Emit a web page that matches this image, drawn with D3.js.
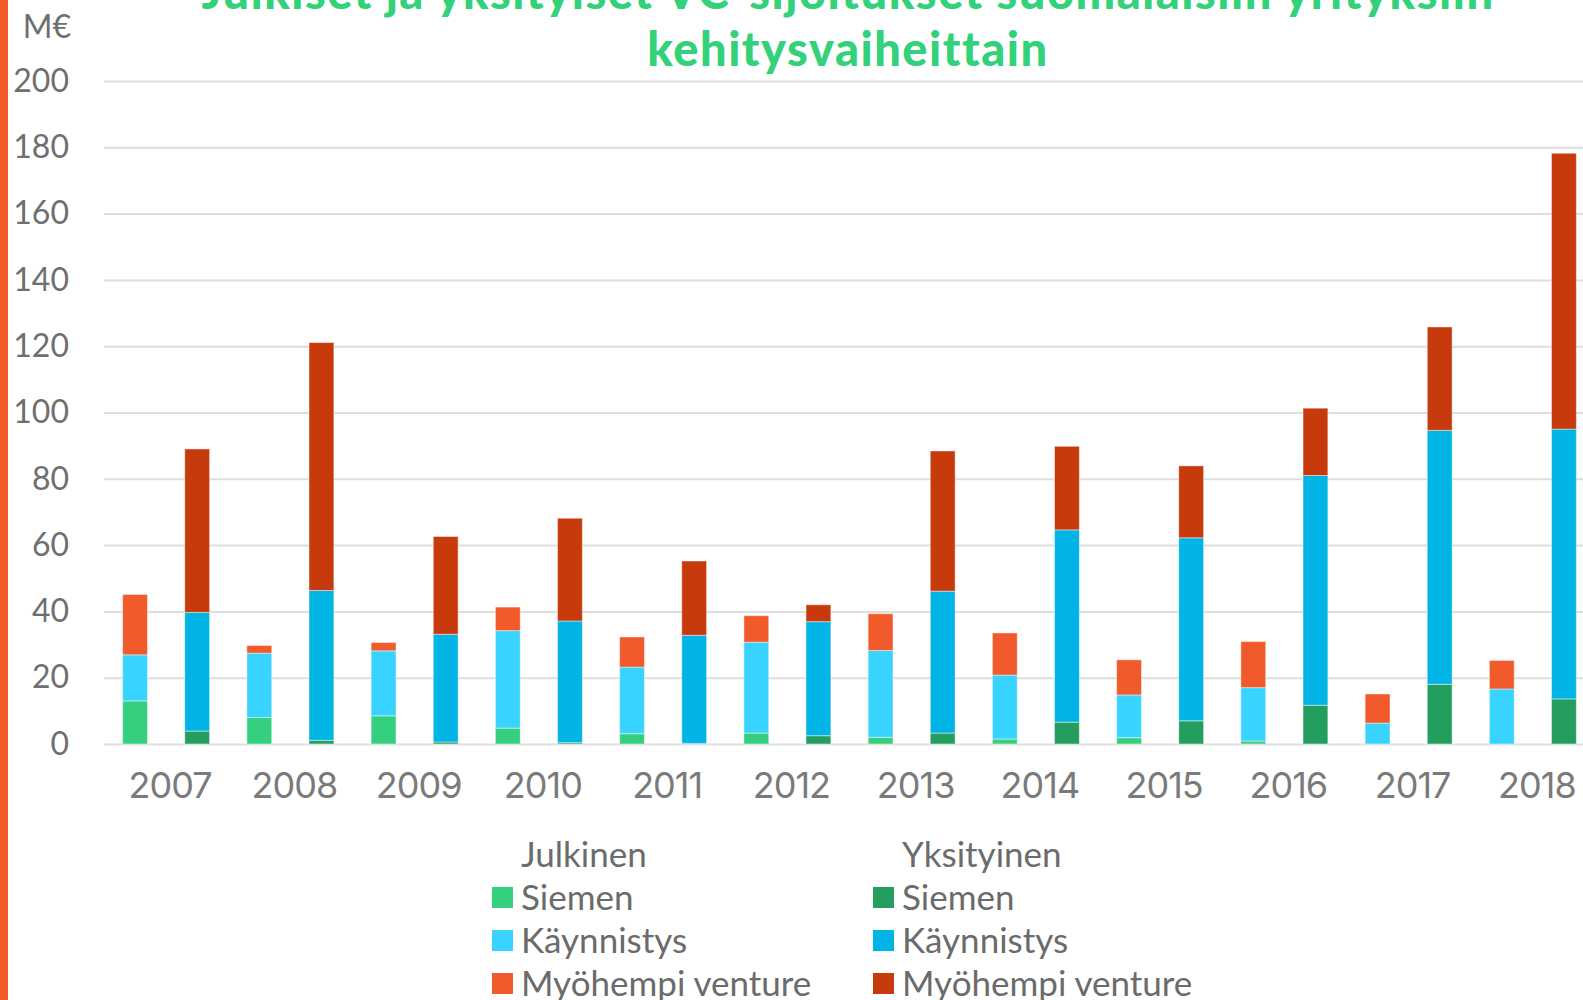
<!DOCTYPE html>
<html>
<head>
<meta charset="utf-8">
<script src="https://cdn.jsdelivr.net/npm/d3@7"></script>
<style>
  body { margin: 0; background: #fff; }
  svg { display: block; overflow: hidden; }
</style>
</head>
<body>
<div id="chart-area"></div>
<script>
var years = ['2007', '2008', '2009', '2010', '2011', '2012', '2013', '2014', '2015', '2016', '2017', '2018']
var groups = ['Julkinen', 'Yksityinen']
var stages = ['Siemen', 'Käynnistys', 'Myöhempi venture']

// Julkinen (public)
var julkSiemen     = [13.0, 8.0, 8.5, 4.8, 3.1, 3.3, 2.0, 1.5, 1.9, 0.9, 0, 0]
var julkKaynnistys = [13.9, 19.4, 19.6, 29.4, 20.1, 27.4, 26.2, 19.3, 12.9, 16.1, 6.3, 16.6]
var julkMyohempi   = [18.2, 2.3, 2.5, 7.1, 9.1, 8.0, 11.1, 12.7, 10.6, 13.9, 8.8, 8.6]

// Yksityinen (private)
var yksSiemen      = [3.9, 1.1, 0.6, 0.4, 0.2, 2.5, 3.3, 6.6, 7.0, 11.7, 18.0, 13.6]
var yksKaynnistys  = [35.8, 45.2, 32.5, 36.7, 32.6, 34.4, 42.8, 58.0, 55.2, 69.3, 76.6, 81.4]
var yksMyohempi    = [49.3, 74.8, 29.5, 31.0, 22.4, 5.1, 42.3, 25.2, 21.7, 20.3, 31.2, 83.2]

var yTicks = [0, 20, 40, 60, 80, 100, 120, 140, 160, 180, 200]

var titleLines = ['Julkiset ja yksityiset VC-sijoitukset suomalaisiin yrityksiin', 'kehitysvaiheittain']

var colors = {
  Julkinen:   { 'Siemen': '#35d07f', 'Käynnistys': '#38d3ff', 'Myöhempi venture': '#f15a2b' },
  Yksityinen: { 'Siemen': '#239e5f', 'Käynnistys': '#00b5e6', 'Myöhempi venture': '#c63a0c' }
}

var W = 1583, H = 1000
var margin = { left: 104, top: 81, bottom: 256 }
var plotRight = 1595
var height = H - margin.top - margin.bottom
var labelFont = "Lato, 'Open Sans', sans-serif"

var rows = []
years.forEach((yr, i) => {
  rows.push({ year: yr, group: 'Julkinen', 'Siemen': julkSiemen[i], 'Käynnistys': julkKaynnistys[i], 'Myöhempi venture': julkMyohempi[i] })
  rows.push({ year: yr, group: 'Yksityinen', 'Siemen': yksSiemen[i], 'Käynnistys': yksKaynnistys[i], 'Myöhempi venture': yksMyohempi[i] })
})

var svg = d3.select('#chart-area')
  .append('svg')
    .attr('width', W)
    .attr('height', H)

svg.append('rect')
  .attr('x', 0).attr('y', 0)
  .attr('width', 8).attr('height', H)
  .attr('fill', '#f15a2b')

var x0 = d3.scaleBand()
    .domain(years)
    .range([margin.left, plotRight])

var x1 = d3.scaleBand()
    .domain(groups)
    .range([0, x0.bandwidth()])
    .paddingInner(0.6)
    .paddingOuter(0.3)

var y = d3.scaleLinear()
    .domain([0, 200])
    .range([margin.top + height, margin.top])

var yAxisCall = d3.axisLeft(y)
  .tickValues(yTicks)
  .tickSize(-(W - margin.left))
  .tickPadding(35)

var yAxis = svg.append('g')
  .attr('class', 'y axis')
  .attr('transform', 'translate(' + margin.left + ',0)')
  .call(yAxisCall)

yAxis.select('.domain').remove()
yAxis.selectAll('.tick line')
  .attr('stroke', '#dedede')
  .attr('stroke-width', 2)
yAxis.selectAll('.tick text')
  .attr('fill', '#6f6f6f')
  .attr('font-family', labelFont)
  .attr('font-size', '32px')

svg.append('text')
  .attr('x', 71)
  .attr('y', 38)
  .attr('text-anchor', 'end')
  .attr('fill', '#6f6f6f')
  .attr('font-family', labelFont)
  .attr('font-size', '32px')
  .text('M€')

var stack = d3.stack().keys(stages)
var series = stack(rows)

svg.append('g')
  .selectAll('g')
  .data(series)
  .enter()
  .append('g')
  .selectAll('rect')
  .data(s => s.map(d => ({ key: s.key, d: d })))
  .enter()
  .append('rect')
    .attr('x', p => x0(p.d.data.year) + x1(p.d.data.group))
    .attr('y', p => y(p.d[1]))
    .attr('width', x1.bandwidth())
    .attr('height', p => y(p.d[0]) - y(p.d[1]))
    .attr('fill', p => colors[p.d.data.group][p.key])
    .attr('stroke', 'rgba(255,255,255,0.45)')
    .attr('stroke-width', 1)

svg.append('g')
  .selectAll('text')
  .data(years)
  .enter()
  .append('text')
    .attr('x', d => x0(d) + x0.bandwidth() / 2 + 4)
    .attr('y', 798)
    .attr('text-anchor', 'middle')
    .attr('fill', '#7a7a7a')
    .attr('font-family', 'Inter, Lato, sans-serif')
    .attr('font-size', '36px')
    .attr('letter-spacing', '-1px')
    .text(d => d)

svg.append('g')
  .selectAll('text')
  .data(titleLines)
  .enter()
  .append('text')
    .attr('x', 848)
    .attr('y', (d, i) => 9 + i * 57)
    .attr('text-anchor', 'middle')
    .attr('fill', '#33d17a')
    .attr('font-family', 'Lato, sans-serif')
    .attr('font-weight', 900)
    .attr('font-size', '47px')
    .attr('letter-spacing', '1.5px')
    .text(d => d)

// legend: one column per group
var legendX = { Julkinen: 492, Yksityinen: 873 }
var legend = svg.append('g')
  .attr('font-family', labelFont)
  .attr('font-size', '35px')
  .attr('fill', '#6b6b6b')

groups.forEach(gr => {
  var col = legend.append('g')
    .attr('transform', 'translate(' + legendX[gr] + ',0)')

  col.append('text')
    .attr('x', 29)
    .attr('y', 867)
    .text(gr)

  var items = col.selectAll('.item')
    .data(stages)
    .enter()
    .append('g')
      .attr('class', 'item')
      .attr('transform', (d, i) => 'translate(0,' + (898 + i * 43) + ')')

  items.append('rect')
    .attr('x', 0)
    .attr('y', -11)
    .attr('width', 21)
    .attr('height', 21)
    .attr('fill', d => colors[gr][d])

  items.append('text')
    .attr('x', 29)
    .attr('y', 12)
    .text(d => d)
})
</script>
</body>
</html>
